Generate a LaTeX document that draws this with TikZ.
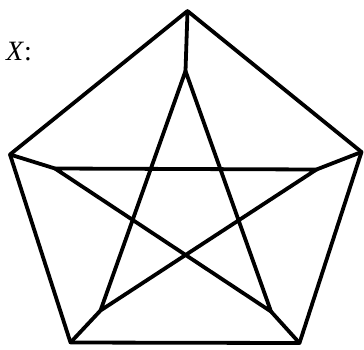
\documentclass[tikz,border=0pt]{standalone}
\usepackage{fontspec}
\setmainfont{Liberation Serif}
\begin{document}
\begin{tikzpicture}[x=1pt,y=-1pt,
  edge/.style={line width=3.8pt,line join=round,line cap=round}]
\useasboundingbox (0,0) rectangle (364,349);
% outer
\coordinate (o1) at (187.5,11);
\coordinate (o2) at (361.5,152);
\coordinate (o3) at (299.5,343);
\coordinate (o4) at (70.5,342.5);
\coordinate (o5) at (10,154.5);
% inner
\coordinate (i1) at (185.5,71);
\coordinate (i2) at (316.5,169.5);
\coordinate (i3) at (271,311.5);
\coordinate (i4) at (100.5,310.5);
\coordinate (i5) at (55,168.5);
\node[font=\fontsize{28}{32}\selectfont, inner sep=0pt, anchor=west] (lab) at (6,52) {\textit{X}:};
\draw[edge] (o1) -- (o2) -- (o3) -- (o4) -- (o5) -- cycle;
\draw[edge] (o1) -- (i1) (o2) -- (i2) (o3) -- (i3) (o4) -- (i4) (o5) -- (i5);
\draw[edge] (i1) -- (i4) (i1) -- (i3) (i5) -- (i2) (i5) -- (i3) (i2) -- (i4);
\end{tikzpicture}
\end{document}
